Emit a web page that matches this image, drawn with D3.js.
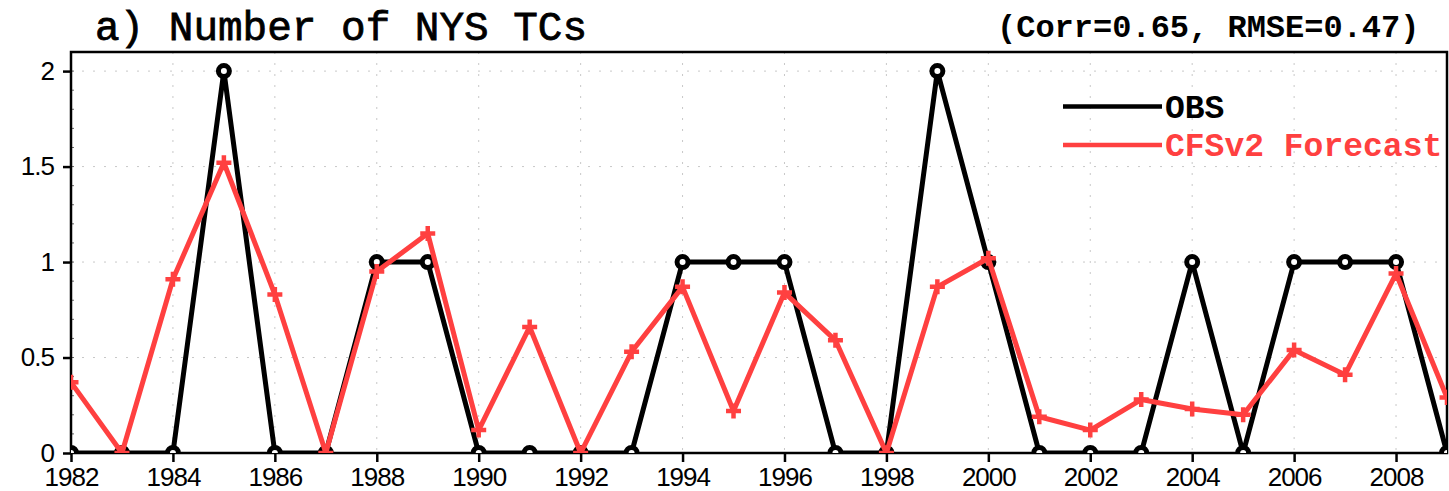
<!DOCTYPE html>
<html>
<head>
<meta charset="utf-8">
<script src="https://cdn.jsdelivr.net/npm/d3@7"></script>
<style>
  body { margin: 0; background: #fff; }
  svg { display: block; }
</style>
</head>
<body>
<svg id="chart"></svg>
<script>
// values
const years = d3.range(1982, 2010);
const obs = [0, 0, 0, 2, 0, 0, 1, 1, 0, 0, 0, 0, 1, 1, 1, 0, 0, 2, 1, 0, 0, 0, 1, 0, 1, 1, 1, 0];
const cfs = [0.37, 0, 0.91, 1.52, 0.83, 0, 0.95, 1.15, 0.12, 0.66, 0, 0.53, 0.87, 0.22, 0.84, 0.59,
             0, 0.87, 1.02, 0.19, 0.12, 0.28, 0.23, 0.20, 0.54, 0.41, 0.94, 0.29];
const xTicks = d3.range(1982, 2009, 2);
const yTicks = [0, 0.5, 1, 1.5, 2];
const yMinor = d3.range(0.1, 2.1, 0.1);

const titleText = "a) Number of NYS TCs";
const statsText = "(Corr=0.65, RMSE=0.47)";
const seriesNames = ["OBS", "CFSv2 Forecast"];

const red = "#ff4040";

const margin = { top: 52, right: 2, bottom: 38, left: 71 },
      W = 1449, H = 491,
      width = W - margin.left - margin.right,
      height = H - margin.top - margin.bottom;

const svg = d3.select("#chart").attr("width", W).attr("height", H);
const g = svg.append("g").attr("transform", `translate(${margin.left},${margin.top})`);

svg.append("defs").append("clipPath")
  .attr("id", "plot-clip")
  .append("rect")
  .attr("x", 0).attr("y", -10)
  .attr("width", width).attr("height", height + 10);

const x = d3.scaleLinear().domain([1982, 2009]).range([0, width]);
const y = d3.scaleLinear().domain([0, 2.1]).range([height, 0]);

// dotted grid
g.append("g")
  .selectAll("line")
  .data(xTicks.slice(1))
  .join("line")
  .attr("x1", d => x(d)).attr("x2", d => x(d))
  .attr("y1", 0).attr("y2", height)
  .attr("stroke", "#c8c8c8")
  .attr("stroke-width", 1)
  .attr("stroke-dasharray", "2 9");

g.append("g")
  .selectAll("line")
  .data(yTicks.slice(1))
  .join("line")
  .attr("x1", 0).attr("x2", width)
  .attr("y1", d => y(d)).attr("y2", d => y(d))
  .attr("stroke", "#c8c8c8")
  .attr("stroke-width", 1)
  .attr("stroke-dasharray", "2 9");

// minor y ticks (inward)
g.append("g")
  .selectAll("line")
  .data(yMinor)
  .join("line")
  .attr("x1", 0).attr("x2", 3)
  .attr("y1", d => y(d)).attr("y2", d => y(d))
  .attr("stroke", "#666")
  .attr("stroke-width", 1);

// frame
g.append("rect")
  .attr("width", width).attr("height", height)
  .attr("fill", "none")
  .attr("stroke", "#000")
  .attr("stroke-width", 2.5);

// axes
const xAxis = g.append("g")
  .attr("transform", `translate(0,${height})`)
  .call(d3.axisBottom(x).tickValues(xTicks).tickFormat(d3.format("d")).tickSize(9).tickPadding(6));

const yAxis = g.append("g")
  .call(d3.axisLeft(y).tickValues(yTicks).tickFormat(d => String(d)).tickSize(8).tickPadding(9));

[xAxis, yAxis].forEach(a => {
  a.select(".domain").remove();
  a.selectAll(".tick line").attr("stroke", "#000").attr("stroke-width", 2.5);
  a.selectAll(".tick text")
    .attr("fill", "#000")
    .style("font-family", "'Liberation Sans', Arial, sans-serif")
    .style("font-size", "26px")
    .style("letter-spacing", "-1px");
});

// series, clipped to the plot box
const plot = g.append("g").attr("clip-path", "url(#plot-clip)");

const line = d3.line()
  .x((d, i) => x(years[i]))
  .y(d => y(d));

plot.append("path")
  .datum(obs)
  .attr("fill", "none")
  .attr("stroke", "#000")
  .attr("stroke-width", 5)
  .attr("stroke-linejoin", "round")
  .attr("d", line);

plot.append("g")
  .selectAll("circle")
  .data(obs)
  .join("circle")
  .attr("cx", (d, i) => x(years[i]))
  .attr("cy", d => y(d))
  .attr("r", 5.5)
  .attr("fill", "#fff")
  .attr("stroke", "#000")
  .attr("stroke-width", 5);

plot.append("path")
  .datum(cfs)
  .attr("fill", "none")
  .attr("stroke", red)
  .attr("stroke-width", 5)
  .attr("stroke-linejoin", "round")
  .attr("d", line);

plot.append("g")
  .selectAll("path")
  .data(cfs)
  .join("path")
  .attr("transform", (d, i) => `translate(${x(years[i])},${y(d)})`)
  .attr("d", "M-7.5,0H7.5M0,-7.5V7.5")
  .attr("stroke", red)
  .attr("stroke-width", 4.5);

// titles
svg.append("text")
  .attr("x", 95)
  .attr("y", 40)
  .style("font-family", "'Liberation Mono', 'Courier New', monospace")
  .style("font-size", "41px")
  .attr("fill", "#000")
  .attr("stroke", "#000")
  .attr("stroke-width", 0.8)
  .text(titleText);

svg.append("text")
  .attr("x", 997)
  .attr("y", 37)
  .style("font-family", "'Liberation Mono', 'Courier New', monospace")
  .style("font-size", "32px")
  .style("font-weight", "bold")
  .attr("fill", "#000")
  .text(statsText);

// legend
const legend = svg.append("g");
const legendRows = [
  { name: seriesNames[0], color: "#000", ly: 106.5 },
  { name: seriesNames[1], color: red, ly: 145 }
];
legendRows.forEach(r => {
  legend.append("line")
    .attr("x1", 1063).attr("x2", 1162)
    .attr("y1", r.ly).attr("y2", r.ly)
    .attr("stroke", r.color)
    .attr("stroke-width", 4.5);
  legend.append("text")
    .attr("x", 1165)
    .attr("y", r.ly + 11)
    .style("font-family", "'Liberation Mono', 'Courier New', monospace")
    .style("font-size", "33px")
    .style("font-weight", "bold")
    .attr("fill", r.color)
    .text(r.name);
});
</script>
</body>
</html>
